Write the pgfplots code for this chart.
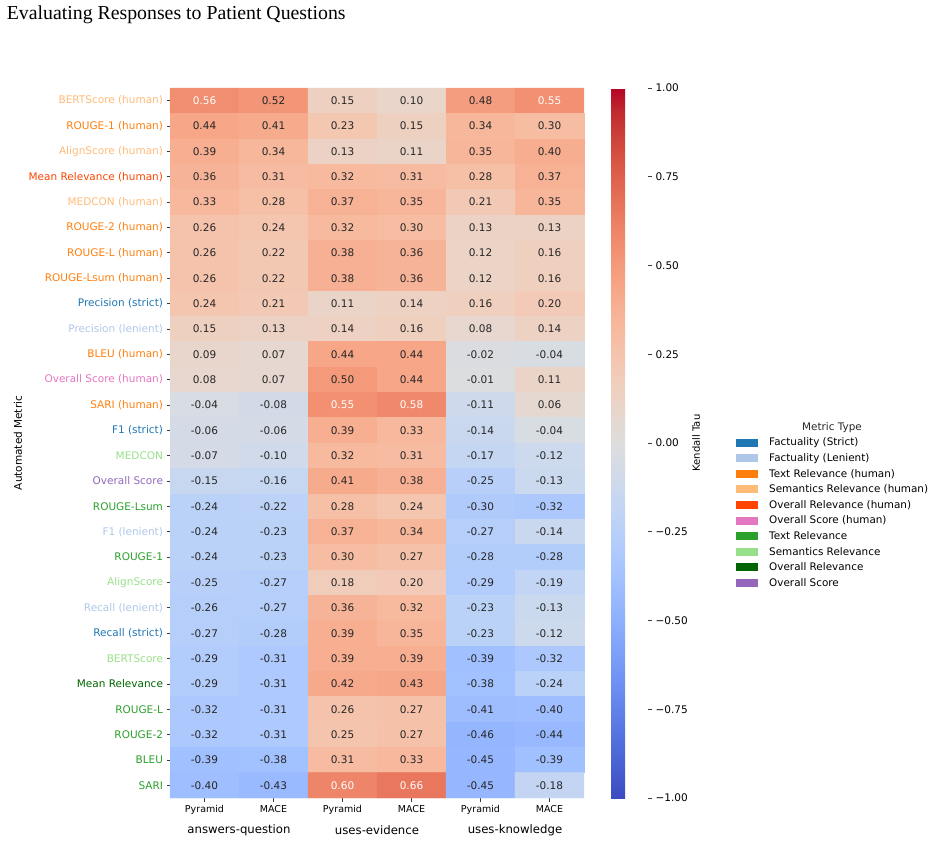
\documentclass[border=0pt]{standalone}
\usepackage{pgfplots}
\pgfplotsset{compat=1.18}
\usepackage{pgfplotstable}
\usepackage{fontspec}
\setmainfont{DejaVu Sans}
\newfontfamily\titlefont{Liberation Serif}

% metric-type colours
\definecolor{factS}{RGB}{31,119,180}
\definecolor{factL}{RGB}{174,199,232}
\definecolor{textH}{RGB}{255,127,14}
\definecolor{semH}{RGB}{255,187,120}
\definecolor{ovrelH}{RGB}{255,69,0}
\definecolor{ovscH}{RGB}{227,119,194}
\definecolor{textA}{RGB}{44,160,44}
\definecolor{semA}{RGB}{152,223,138}
\definecolor{ovrelA}{RGB}{0,100,0}
\definecolor{ovscA}{RGB}{148,103,189}
\definecolor{celltext}{RGB}{38,38,38}
\definecolor{tickgray}{RGB}{60,60,60}

\pgfplotsset{
  colormap={coolwarm}{
    rgb255=(59,76,192) rgb255=(68,90,204) rgb255=(77,104,215) rgb255=(87,117,225)
    rgb255=(98,130,234) rgb255=(108,142,241) rgb255=(119,154,247) rgb255=(130,165,251)
    rgb255=(141,176,254) rgb255=(152,185,255) rgb255=(163,194,255) rgb255=(174,201,253)
    rgb255=(184,208,249) rgb255=(194,213,244) rgb255=(204,217,238) rgb255=(213,219,230)
    rgb255=(221,221,221) rgb255=(229,216,209) rgb255=(236,211,197) rgb255=(241,204,185)
    rgb255=(245,196,173) rgb255=(247,187,160) rgb255=(247,177,148) rgb255=(247,166,135)
    rgb255=(244,154,123) rgb255=(241,141,111) rgb255=(236,127,99) rgb255=(229,112,88)
    rgb255=(222,96,77) rgb255=(213,80,66) rgb255=(203,62,56) rgb255=(192,40,47)
    rgb255=(180,4,38)
  },
  cellnum/.style={
    only marks, mark=none, forget plot,
    point meta=explicit,
    nodes near coords={\pgfmathprintnumber[fixed,fixed zerofill,precision=2,assume math mode=true]{\pgfplotspointmeta}},
    nodes near coords style={anchor=center, font=\fontsize{10.5}{12}\selectfont},
  },
}

% Kendall tau: column x (0..5), row y (0..27), value v
\pgfplotstableread{
x y v
0 0 0.56
1 0 0.52
2 0 0.15
3 0 0.10
4 0 0.48
5 0 0.55
0 1 0.44
1 1 0.41
2 1 0.23
3 1 0.15
4 1 0.34
5 1 0.30
0 2 0.39
1 2 0.34
2 2 0.13
3 2 0.11
4 2 0.35
5 2 0.40
0 3 0.36
1 3 0.31
2 3 0.32
3 3 0.31
4 3 0.28
5 3 0.37
0 4 0.33
1 4 0.28
2 4 0.37
3 4 0.35
4 4 0.21
5 4 0.35
0 5 0.26
1 5 0.24
2 5 0.32
3 5 0.30
4 5 0.13
5 5 0.13
0 6 0.26
1 6 0.22
2 6 0.38
3 6 0.36
4 6 0.12
5 6 0.16
0 7 0.26
1 7 0.22
2 7 0.38
3 7 0.36
4 7 0.12
5 7 0.16
0 8 0.24
1 8 0.21
2 8 0.11
3 8 0.14
4 8 0.16
5 8 0.20
0 9 0.15
1 9 0.13
2 9 0.14
3 9 0.16
4 9 0.08
5 9 0.14
0 10 0.09
1 10 0.07
2 10 0.44
3 10 0.44
4 10 -0.02
5 10 -0.04
0 11 0.08
1 11 0.07
2 11 0.50
3 11 0.44
4 11 -0.01
5 11 0.11
0 12 -0.04
1 12 -0.08
2 12 0.55
3 12 0.58
4 12 -0.11
5 12 0.06
0 13 -0.06
1 13 -0.06
2 13 0.39
3 13 0.33
4 13 -0.14
5 13 -0.04
0 14 -0.07
1 14 -0.10
2 14 0.32
3 14 0.31
4 14 -0.17
5 14 -0.12
0 15 -0.15
1 15 -0.16
2 15 0.41
3 15 0.38
4 15 -0.25
5 15 -0.13
0 16 -0.24
1 16 -0.22
2 16 0.28
3 16 0.24
4 16 -0.30
5 16 -0.32
0 17 -0.24
1 17 -0.23
2 17 0.37
3 17 0.34
4 17 -0.27
5 17 -0.14
0 18 -0.24
1 18 -0.23
2 18 0.30
3 18 0.27
4 18 -0.28
5 18 -0.28
0 19 -0.25
1 19 -0.27
2 19 0.18
3 19 0.20
4 19 -0.29
5 19 -0.19
0 20 -0.26
1 20 -0.27
2 20 0.36
3 20 0.32
4 20 -0.23
5 20 -0.13
0 21 -0.27
1 21 -0.28
2 21 0.39
3 21 0.35
4 21 -0.23
5 21 -0.12
0 22 -0.29
1 22 -0.31
2 22 0.39
3 22 0.39
4 22 -0.39
5 22 -0.32
0 23 -0.29
1 23 -0.31
2 23 0.42
3 23 0.43
4 23 -0.38
5 23 -0.24
0 24 -0.32
1 24 -0.31
2 24 0.26
3 24 0.27
4 24 -0.41
5 24 -0.40
0 25 -0.32
1 25 -0.31
2 25 0.25
3 25 0.27
4 25 -0.46
5 25 -0.44
0 26 -0.39
1 26 -0.38
2 26 0.31
3 26 0.33
4 26 -0.45
5 26 -0.39
0 27 -0.40
1 27 -0.43
2 27 0.60
3 27 0.66
4 27 -0.45
5 27 -0.18
}\heat

\begin{document}
\begin{tikzpicture}
\path[use as bounding box] (0,0) rectangle (936pt,-843pt);

\node[anchor=base west, font=\titlefont\fontsize{19.8}{22}\selectfont, inner sep=0pt]
  at (6.7pt,-20pt) {Evaluating Responses to Patient Questions};

\begin{axis}[
  at={(170pt,-88pt)}, anchor=north west,
  scale only axis, width=414pt, height=710pt,
  xmin=-0.5, xmax=5.5, ymin=-0.5, ymax=27.5,
  y dir=reverse,
  clip=false,
  axis line style={draw=none},
  tick align=outside,
  major tick length=3.5pt,
  major tick style={color=tickgray, line width=0.8pt},
  xtick pos=bottom, ytick pos=left,
  xtick={0,...,5},
  xticklabels={Pyramid,MACE,Pyramid,MACE,Pyramid,MACE},
  xticklabel style={font=\fontsize{9.5}{11}\selectfont, text=black},
  ytick={0,...,27},
  yticklabels={
    \textcolor{semH}{BERTScore (human)},
    \textcolor{textH}{ROUGE-1 (human)},
    \textcolor{semH}{AlignScore (human)},
    \textcolor{ovrelH}{Mean Relevance (human)},
    \textcolor{semH}{MEDCON (human)},
    \textcolor{textH}{ROUGE-2 (human)},
    \textcolor{textH}{ROUGE-L (human)},
    \textcolor{textH}{ROUGE-Lsum (human)},
    \textcolor{factS}{Precision (strict)},
    \textcolor{factL}{Precision (lenient)},
    \textcolor{textH}{BLEU (human)},
    \textcolor{ovscH}{Overall Score (human)},
    \textcolor{textH}{SARI (human)},
    \textcolor{factS}{F1 (strict)},
    \textcolor{semA}{MEDCON},
    \textcolor{ovscA}{Overall Score},
    \textcolor{textA}{ROUGE-Lsum},
    \textcolor{factL}{F1 (lenient)},
    \textcolor{textA}{ROUGE-1},
    \textcolor{semA}{AlignScore},
    \textcolor{factL}{Recall (lenient)},
    \textcolor{factS}{Recall (strict)},
    \textcolor{semA}{BERTScore},
    \textcolor{ovrelA}{Mean Relevance},
    \textcolor{textA}{ROUGE-L},
    \textcolor{textA}{ROUGE-2},
    \textcolor{textA}{BLEU},
    \textcolor{textA}{SARI}},
  yticklabel style={font=\fontsize{10.5}{12}\selectfont},
  ylabel={Automated Metric},
  ylabel style={at={(axis description cs:-0.367,0.5)}, anchor=center,
                font=\fontsize{10.5}{12}\selectfont},
  colormap name=coolwarm,
  point meta min=-1, point meta max=1,
  colorbar,
  colorbar shift/.style={xshift=27pt},
  colorbar style={
    at={(parent axis.north east)}, anchor=north west,
    width=37pt,
    axis line style={draw=none},
    ytick pos=right,
    ytick={-1,-0.75,-0.5,-0.25,0,0.25,0.5,0.75,1},
    yticklabels={−1.00,−0.75,−0.50,−0.25,0.00,0.25,0.50,0.75,1.00},
    yticklabel style={font=\fontsize{10.5}{12}\selectfont},
    major tick length=4pt,
    major tick style={color=tickgray, line width=0.8pt},
    tick align=outside,
    ylabel={Kendall Tau},
    ylabel style={at={(axis description cs:2.3,0.5)}, anchor=center,
                  font=\fontsize{10}{12}\selectfont},
  },
  legend image code/.code={\fill[#1] (0pt,-4pt) rectangle (22pt,4pt);},
  legend cell align=left,
  legend style={
    at={(axis description cs:1.36,0.513)}, anchor=north west,
    draw=none, fill=none,
    font=\fontsize{10.4}{12}\selectfont,
    row sep=2.2pt, column sep=9pt,
  },
]
\addplot[matrix plot*, mesh/cols=6, point meta=explicit, forget plot]
  table[x=x, y=y, meta=v]{\heat};

% annotations: dark on light cells, white on the strongest cells
\addplot[cellnum, restrict expr to domain={\thisrow{v}}{-1:0.535},
  nodes near coords style={text=celltext}]
  table[x=x, y=y, meta=v]{\heat};
\addplot[cellnum, restrict expr to domain={\thisrow{v}}{0.535:1},
  nodes near coords style={text=white}]
  table[x=x, y=y, meta=v]{\heat};

\addlegendimage{fill=factS, draw=none}\addlegendentry{Factuality (Strict)}
\addlegendimage{fill=factL, draw=none}\addlegendentry{Factuality (Lenient)}
\addlegendimage{fill=textH, draw=none}\addlegendentry{Text Relevance (human)}
\addlegendimage{fill=semH, draw=none}\addlegendentry{Semantics Relevance (human)}
\addlegendimage{fill=ovrelH, draw=none}\addlegendentry{Overall Relevance (human)}
\addlegendimage{fill=ovscH, draw=none}\addlegendentry{Overall Score (human)}
\addlegendimage{fill=textA, draw=none}\addlegendentry{Text Relevance}
\addlegendimage{fill=semA, draw=none}\addlegendentry{Semantics Relevance}
\addlegendimage{fill=ovrelA, draw=none}\addlegendentry{Overall Relevance}
\addlegendimage{fill=ovscA, draw=none}\addlegendentry{Overall Score}

\node[font=\fontsize{10.4}{12}\selectfont, text=celltext] at (axis description cs:1.599,0.521) {Metric Type};

\node[font=\fontsize{11.7}{13}\selectfont] at (axis cs:0.5,27.5) [yshift=-32pt] {answers-question};
\node[font=\fontsize{11.7}{13}\selectfont] at (axis cs:2.5,27.5) [yshift=-32pt] {uses-evidence};
\node[font=\fontsize{11.7}{13}\selectfont] at (axis cs:4.5,27.5) [yshift=-32pt] {uses-knowledge};
\end{axis}
\end{tikzpicture}
\end{document}
